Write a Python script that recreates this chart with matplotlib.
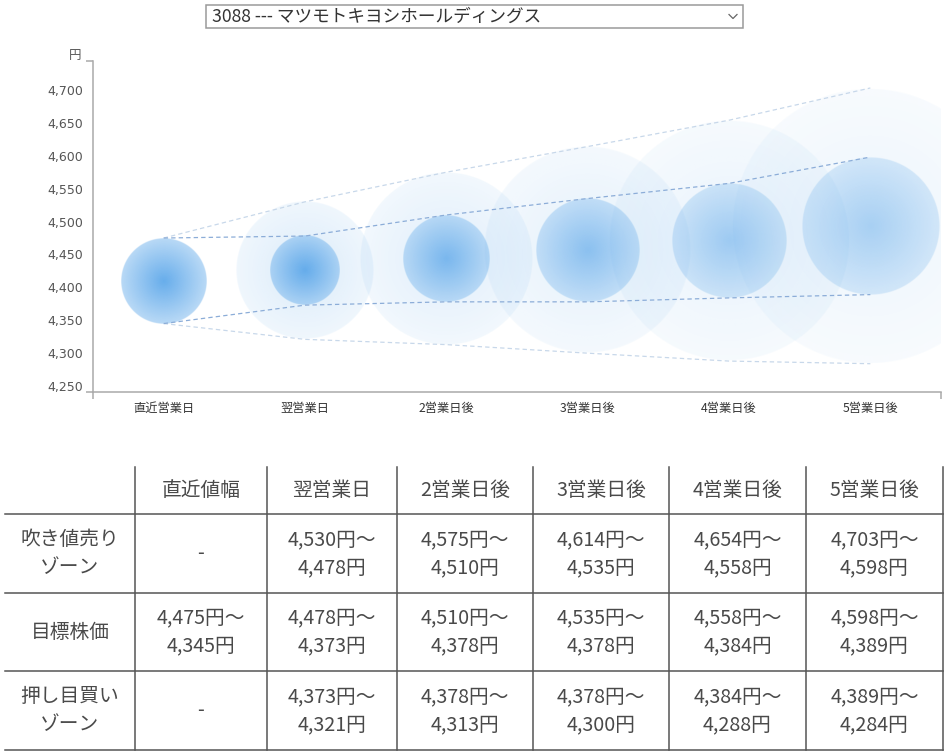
import numpy as np
import matplotlib
matplotlib.use("Agg")
import matplotlib.pyplot as plt

# --- data ---
ticker_label = "3088 --- マツモトキヨシホールディングス"
days = ["直近営業日", "翌営業日", "2営業日後", "3営業日後", "4営業日後", "5営業日後"]
table_cols = ["直近値幅", "翌営業日", "2営業日後", "3営業日後", "4営業日後", "5営業日後"]
row_labels = [["吹き値売り", "ゾーン"], ["目標株価"], ["押し目買い", "ゾーン"]]

sell_hi = [None, 4530, 4575, 4614, 4654, 4703]
sell_lo = [None, 4478, 4510, 4535, 4558, 4598]
target_hi = [4475, 4478, 4510, 4535, 4558, 4598]
target_lo = [4345, 4373, 4378, 4378, 4384, 4389]
buy_hi = [None, 4373, 4378, 4378, 4384, 4389]
buy_lo = [None, 4321, 4313, 4300, 4288, 4284]

y_ticks = [4250, 4300, 4350, 4400, 4450, 4500, 4550, 4600, 4650, 4700]
y_min, y_max = 4241, 4744

# fading of bubbles further out
inner_fade = [1.0, 0.95, 0.8, 0.68, 0.56, 0.5]
outer_fade = [0.0, 1.0, 0.85, 0.72, 0.6, 0.5]

W, H = 947, 756
JP = ["Noto Sans CJK JP", "DejaVu Sans"]
NUM = ["DejaVu Sans", "Noto Sans CJK JP"]

fig = plt.figure(figsize=(W / 100, H / 100), dpi=100)

# chart axes placed in pixel terms
ax_l, ax_r, ax_t, ax_b = 93, 941, 61, 392
ax = fig.add_axes([ax_l / W, 1 - ax_b / H, (ax_r - ax_l) / W, (ax_b - ax_t) / H])
ax.set_xlim(-0.5, len(days) - 0.5)
ax.set_ylim(y_min, y_max)

px_per_x = (ax_r - ax_l) / len(days)
px_per_y = (ax_b - ax_t) / (y_max - y_min)

blue = np.array([60, 150, 230]) / 255.0
N = 300
g = np.linspace(-1, 1, N)
gx, gy = np.meshgrid(g, g)
dist = np.sqrt(gx ** 2 + gy ** 2)
edge = np.clip((1 - dist) * N / 2, 0, 1)


def bubble(cx, cy, r_yen, a_c, a_e, z):
    ry = r_yen
    rx = r_yen * px_per_y / px_per_x
    alpha = (a_c + (a_e - a_c) * np.clip(dist, 0, 1)) * edge
    img = np.zeros((N, N, 4))
    img[..., :3] = blue
    img[..., 3] = alpha
    ax.imshow(img, extent=(cx - rx, cx + rx, cy - ry, cy + ry), aspect="auto",
              interpolation="bilinear", zorder=z)


# outer bubbles: sell-zone top to buy-zone bottom
for i in range(1, len(days)):
    mid = (sell_hi[i] + buy_lo[i]) / 2
    bubble(i, mid, (sell_hi[i] - buy_lo[i]) / 2, 0.19 * outer_fade[i], 0.08 * outer_fade[i], 1)

# inner bubbles: target range
for i in range(len(days)):
    mid = (target_hi[i] + target_lo[i]) / 2
    bubble(i, mid, (target_hi[i] - target_lo[i]) / 2, 0.78 * inner_fade[i], 0.36 * inner_fade[i], 2)

xs = np.arange(len(days))
outer_up = [target_hi[0]] + sell_hi[1:]
outer_dn = [target_lo[0]] + buy_lo[1:]
ax.plot(xs, outer_up, color="#c8d8ea", lw=0.9, ls=(0, (3.5, 2.5)), zorder=3)
ax.plot(xs, outer_dn, color="#c8d8ea", lw=0.9, ls=(0, (3.5, 2.5)), zorder=3)
ax.plot(xs, target_hi, color="#8cadd8", lw=0.9, ls=(0, (3.5, 2.5)), zorder=3)
ax.plot(xs, target_lo, color="#8cadd8", lw=0.9, ls=(0, (3.5, 2.5)), zorder=3)
ax.set_xlim(-0.5, len(days) - 0.5)
ax.set_ylim(y_min, y_max)

for s in ["top", "right"]:
    ax.spines[s].set_visible(False)
for s in ["left", "bottom"]:
    ax.spines[s].set_color("#aaaaaa")
    ax.spines[s].set_linewidth(1.1)

# end ticks only, labels on length-zero minor ticks
ax.set_xticks([-0.5, len(days) - 0.5], ["", ""])
ax.set_xticks(xs, days, minor=True)
ax.set_yticks([y_min, y_max], ["", ""])
ax.set_yticks(y_ticks, [f"{v:,}" for v in y_ticks], minor=True)
ax.tick_params(axis="both", which="major", length=5, width=1.1, color="#aaaaaa")
ax.tick_params(axis="x", which="minor", length=0, pad=7, labelsize=8.8, labelcolor="#333333")
ax.tick_params(axis="y", which="minor", length=0, pad=7, labelsize=9, labelcolor="#555555")
for t in ax.get_xticklabels(minor=True):
    t.set_family(JP)
for t in ax.get_yticklabels(minor=True):
    t.set_family(NUM)

# overlay in pixel coordinates for dropdown, axis unit and table
ov = fig.add_axes([0, 0, 1, 1], zorder=-1)
ov.set_xlim(0, W)
ov.set_ylim(H, 0)
ov.axis("off")

ov.text(75, 55, "円", fontsize=9, family=JP, color="#555555", ha="center", va="center")

# dropdown
ov.add_patch(plt.Rectangle((206, 5), 537, 23, fill=False, ec="#9a9a9a", lw=1.1))
ov.text(212, 17, ticker_label, fontsize=12.7, family=JP, color="#333333", va="center", ha="left")
ov.plot([729, 733, 737], [14.5, 18.5, 14.5], color="#666666", lw=0.9)

# table
col_x = [5, 135, 267, 397, 533, 669, 806, 943]
row_y = [467, 514, 593, 671, 750]
line_c = "#555555"
text_c = "#4a4a4a"
for x in col_x[1:]:
    ov.plot([x, x], [row_y[0], row_y[-1]], color=line_c, lw=1.1)
for y in row_y[1:]:
    ov.plot([col_x[0], col_x[-1]], [y, y], color=line_c, lw=1.1)

fs = 14.2
for j, name in enumerate(table_cols):
    cx = (col_x[j + 1] + col_x[j + 2]) / 2
    ov.text(cx, (row_y[0] + row_y[1]) / 2, name, fontsize=fs, family=JP, color=text_c,
            ha="center", va="center")

rows = [(sell_hi, sell_lo), (target_hi, target_lo), (buy_hi, buy_lo)]
for r, (hi, lo) in enumerate(rows):
    cy = (row_y[r + 1] + row_y[r + 2]) / 2
    lab = row_labels[r]
    if len(lab) == 2:
        ov.text(70, cy - 14, lab[0], fontsize=fs, family=JP, color=text_c, ha="center", va="center")
        ov.text(70, cy + 14, lab[1], fontsize=fs, family=JP, color=text_c, ha="center", va="center")
    else:
        ov.text(70, cy, lab[0], fontsize=fs, family=JP, color=text_c, ha="center", va="center")
    for j in range(len(table_cols)):
        cx = (col_x[j + 1] + col_x[j + 2]) / 2
        if hi[j] is None:
            ov.text(cx, cy, "-", fontsize=fs, family=JP, color=text_c, ha="center", va="center")
        else:
            ov.text(cx, cy - 14, f"{hi[j]:,}円〜", fontsize=fs, family=JP, color=text_c,
                    ha="center", va="center")
            ov.text(cx, cy + 14, f"{lo[j]:,}円", fontsize=fs, family=JP, color=text_c,
                    ha="center", va="center")

fig.savefig("out.png", dpi=100)
